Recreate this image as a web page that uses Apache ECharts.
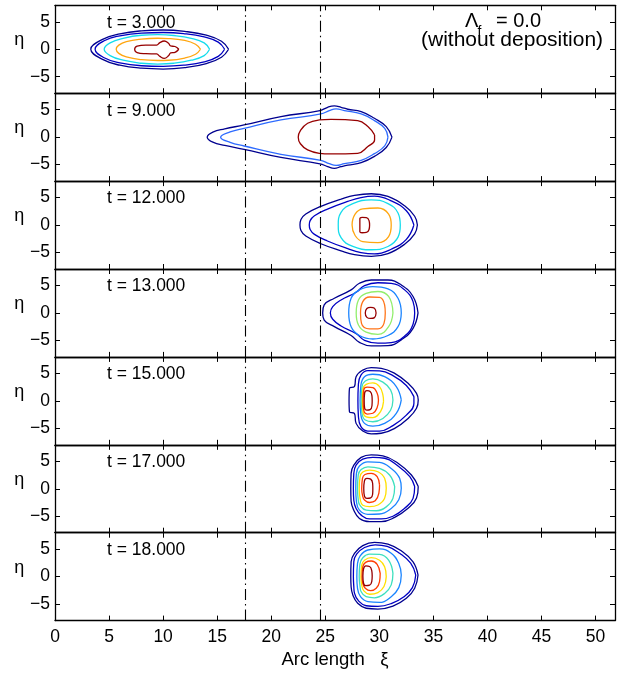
<!DOCTYPE html>
<html>
<head>
<meta charset="utf-8">
<script src="https://cdn.jsdelivr.net/npm/echarts@6/dist/echarts.min.js"></script>
<style>html,body{margin:0;padding:0;background:#fff}#c{width:620px;height:673px}</style>
</head>
<body>
<div id="c"></div>
<script>
// ---------- data ----------
const times = ['3.000', '9.000', '12.000', '13.000', '15.000', '17.000', '18.000'];
const xTickValues = [0, 5, 10, 15, 20, 25, 30, 35, 40, 45, 50];
const yTickValues = [-5, 0, 5];
const refLines = [17.6, 24.5];
const xRange = [0, 51.8];
const yRange = [-8, 8];

// t = 3
const p1a = [[16.06,0],[15.4,1.45],[14.0,2.55],[12.0,3.25],[10.0,3.5],[8.0,3.35],[6.0,2.8],[4.4,1.8],[3.31,0],[4.4,-1.85],[6.0,-2.9],[8.0,-3.45],[10.0,-3.6],[12.0,-3.35],[14.0,-2.6],[15.4,-1.45],[16.06,0]];
const p1b = [[15.69,0],[15.1,1.3],[13.8,2.25],[11.9,2.85],[10.0,3.05],[8.0,2.95],[6.0,2.45],[4.6,1.6],[3.71,0],[4.6,-1.6],[6.0,-2.5],[8.0,-3.0],[10.0,-3.1],[11.9,-2.9],[13.8,-2.3],[15.1,-1.3],[15.69,0]];
const p1c = [[14.3,0],[13.8,1.15],[12.6,2.0],[11.0,2.5],[9.5,2.65],[8.0,2.55],[6.3,2.0],[5.1,1.15],[4.55,0],[5.1,-1.15],[6.3,-2.0],[8.0,-2.55],[9.5,-2.7],[11.0,-2.55],[12.6,-2.0],[13.8,-1.15],[14.3,0]];
const p1d = [[13.46,0],[13.0,0.9],[12.0,1.6],[10.5,1.95],[9.5,2.0],[8.0,1.85],[6.6,1.4],[5.9,0.75],[5.66,0],[5.9,-0.75],[6.6,-1.4],[8.0,-1.9],[9.5,-2.05],[10.5,-2.0],[12.0,-1.6],[13.0,-0.9],[13.46,0]];
const p1e = [[11.45,0],[11.1,0.5],[10.7,0.6],[10.5,1.1],[10.1,1.5],[9.7,1.2],[9.4,0.75],[8.4,0.75],[7.6,0.55],[7.37,0],[7.6,-0.6],[8.4,-0.8],[9.4,-0.85],[9.7,-1.3],[10.1,-1.65],[10.5,-1.2],[10.7,-0.65],[11.1,-0.55],[11.45,0]];
// t = 9
const p2a = [[31.17,0],[30.64,1.92],[29.55,3.43],[28.32,4.65],[27.08,5.08],[26.46,5.44],[25.84,5.68],[25.22,5.44],[24.51,4.83],[20.9,3.74],[17.49,2.22],[15.7,1.5],[14.6,0.9],[14.08,0],[14.6,-0.9],[15.7,-1.5],[17.49,-2.22],[20.9,-3.7],[24.51,-4.85],[25.22,-5.37],[25.84,-5.67],[26.46,-5.37],[27.08,-5.1],[28.32,-4.65],[29.55,-3.5],[30.64,-1.88],[31.17,0]];
const p2b = [[30.8,0],[30.5,1.6],[29.55,3.0],[28.32,4.22],[26.77,4.83],[26.0,5.14],[25.37,4.83],[24.6,4.22],[20.9,3.13],[17.49,1.61],[16.2,0.95],[15.32,0],[16.2,-0.95],[17.49,-1.61],[20.9,-3.13],[24.6,-4.22],[25.37,-4.83],[26.0,-5.14],[26.77,-4.83],[28.32,-4.22],[29.55,-3.0],[30.5,-1.6],[30.8,0]];
const p2c = [[29.56,0.4],[28.94,1.92],[28.0,3.0],[25.53,3.25],[24.45,3.13],[23.37,2.52],[22.7,1.2],[22.5,0],[22.7,-1.2],[23.37,-2.33],[24.45,-2.94],[25.53,-3.06],[28.0,-2.94],[28.94,-1.72],[29.56,-0.5],[29.56,0.4]];
// t = 12
const p3a = [[33.52,0],[33.27,1.6],[32.34,3.5],[30.8,5.2],[29.25,5.7],[27.7,5.4],[26.46,4.7],[24.6,3.4],[23.2,2.0],[22.75,1.0],[22.66,0],[22.75,-1.0],[23.2,-2.0],[24.6,-3.4],[26.46,-4.7],[27.7,-5.4],[29.25,-5.7],[30.8,-5.2],[32.34,-3.5],[33.27,-1.6],[33.52,0]];
const p3b = [[33.2,0],[32.5,2.6],[31.1,4.4],[29.55,5.25],[28.3,5.0],[27.08,4.3],[25.2,2.9],[24.0,1.7],[23.6,0.8],[23.52,0],[23.6,-0.8],[24.0,-1.7],[25.2,-2.9],[27.08,-4.3],[28.3,-5.0],[29.55,-5.25],[31.1,-4.4],[32.5,-2.6],[33.2,0]];
const p3c = [[31.94,0],[31.73,2.2],[30.8,3.9],[29.25,4.6],[27.55,3.9],[26.46,2.3],[26.2,0],[26.46,-2.3],[27.55,-3.9],[29.25,-4.5],[30.8,-3.9],[31.73,-2.2],[31.94,0]];
const p3d = [[31.1,0],[30.86,2.0],[29.87,3.1],[28.47,2.95],[27.76,2.0],[27.48,0],[27.76,-1.9],[28.47,-3.0],[29.87,-3.2],[30.86,-2.1],[31.1,0]];
const p3e = [[29.1,0],[29.05,0.8],[28.8,1.35],[28.4,1.4],[28.2,1.2],[28.2,0],[28.2,-1.2],[28.4,-1.4],[28.8,-1.35],[29.05,-0.8],[29.1,0]];
// t = 13
const p4a = [[33.58,0],[33.12,3.0],[32.03,5.1],[30.8,6.0],[29.25,6.0],[28.16,5.4],[27.39,4.2],[25.84,2.67],[24.9,1.46],[24.76,0],[24.9,-1.3],[25.84,-2.5],[27.39,-4.1],[28.16,-5.35],[29.25,-6.0],[30.8,-5.95],[32.03,-4.9],[33.12,-2.8],[33.58,0]];
const p4b = [[33.27,0],[33.12,2.06],[32.34,4.2],[31.1,5.4],[29.87,5.5],[28.63,4.98],[27.86,3.76],[26.46,2.37],[25.69,1.15],[25.47,0],[25.69,-1.15],[26.46,-2.37],[27.86,-3.76],[28.63,-4.98],[29.87,-5.5],[31.1,-5.4],[32.34,-4.2],[33.12,-2.06],[33.27,0]];
const p4c = [[32.03,0],[31.73,2.67],[30.8,4.37],[29.4,4.8],[28.16,4.2],[27.39,2.67],[27.17,0],[27.39,-2.5],[28.16,-4.1],[29.4,-4.74],[30.8,-4.1],[31.73,-2.5],[32.03,0]];
const p4d = [[31.26,0],[30.86,3.0],[29.87,3.9],[28.78,3.58],[28.07,2.37],[27.86,0],[28.07,-2.2],[28.78,-3.5],[29.87,-3.9],[30.86,-2.5],[31.26,0]];
const p4e = [[30.55,0],[30.49,1.46],[30.02,2.85],[29.1,2.9],[28.47,2.06],[28.26,0],[28.35,-1.9],[29.1,-2.9],[29.87,-2.9],[30.43,-1.9],[30.55,0]];
const p4f = [[29.7,0],[29.55,0.85],[29.2,1.0],[28.85,0.8],[28.7,0],[28.85,-0.8],[29.2,-1.0],[29.55,-0.85],[29.7,0]];
// t = 15
const p5a = [[33.6,0.16],[33.44,1.37],[32.66,3.2],[31.42,5.0],[30.18,5.93],[29.25,6.05],[28.47,5.6],[27.85,4.4],[27.7,2.6],[27.24,2.3],[27.2,0],[27.24,-2.0],[27.7,-2.3],[27.85,-4.1],[28.47,-5.5],[29.25,-6.0],[30.18,-5.9],[31.42,-5.0],[32.66,-3.2],[33.44,-1.35],[33.6,0.16]];
const p5b = [[33.2,0.77],[32.5,2.8],[31.26,4.6],[30.02,5.45],[28.94,5.5],[28.3,4.7],[28.06,2.9],[28.02,0],[28.06,-2.6],[28.3,-4.7],[28.94,-5.5],[30.02,-5.5],[31.26,-4.5],[32.5,-2.6],[33.2,-0.45],[33.2,0.77]];
const p5c = [[32.03,0.16],[31.57,2.6],[30.49,4.4],[29.4,4.84],[28.63,4.4],[28.3,2.9],[28.22,0],[28.3,-2.6],[28.63,-4.1],[29.4,-4.6],[30.49,-4.1],[31.57,-2.3],[32.03,0.16]];
const p5d = [[31.26,0.16],[31.04,2.0],[30.33,3.4],[29.4,4.0],[28.7,3.6],[28.4,2.6],[28.33,0],[28.4,-2.3],[28.7,-3.5],[29.4,-3.8],[30.33,-3.2],[31.04,-1.7],[31.26,0.16]];
const p5e = [[30.39,-0.14],[30.33,1.07],[30.02,2.6],[29.4,3.26],[28.78,3.0],[28.5,2.3],[28.43,0],[28.5,-2.1],[28.78,-2.9],[29.4,-3.05],[30.1,-2.0],[30.39,-0.14]];
const p5f = [[29.92,0.16],[29.8,1.37],[29.4,2.4],[28.88,2.5],[28.56,2.0],[28.5,0],[28.56,-1.7],[28.88,-2.4],[29.4,-2.26],[29.8,-1.23],[29.92,0.16]];
const p5g = [[29.34,0],[29.32,0.9],[29.15,1.7],[28.85,1.85],[28.64,1.4],[28.6,0],[28.64,-1.3],[28.85,-1.7],[29.15,-1.6],[29.32,-0.9],[29.34,0]];
// t = 17
const p6a = [[33.6,0.4],[32.97,2.5],[31.73,4.64],[30.33,5.97],[29.25,6.15],[28.32,5.7],[27.64,4.3],[27.39,2.8],[27.36,0],[27.39,-2.3],[27.64,-3.9],[28.16,-5.4],[29.1,-6.0],[30.18,-6.0],[31.42,-5.2],[32.66,-3.55],[33.44,-1.7],[33.6,0.4]];
const p6b = [[33.27,0.4],[32.82,2.2],[31.73,4.15],[30.49,5.55],[29.4,5.7],[28.47,5.4],[27.85,4.3],[27.64,2.8],[27.6,0],[27.64,-2.1],[27.85,-3.6],[28.32,-4.8],[29.1,-5.5],[30.18,-5.5],[31.26,-5.0],[32.34,-3.55],[33.12,-1.75],[33.27,0.4]];
const p6c = [[32.03,0.08],[31.88,1.9],[31.1,3.7],[30.02,4.8],[28.94,4.9],[28.16,4.15],[27.88,2.8],[27.82,0],[27.88,-2.3],[28.16,-3.9],[28.94,-4.65],[30.02,-4.6],[31.1,-3.6],[31.8,-2.0],[32.03,0.08]];
const p6d = [[31.42,0.4],[30.95,2.5],[30.02,3.7],[28.94,4.0],[28.32,3.5],[28.05,2.5],[27.98,0],[28.05,-2.0],[28.2,-3.0],[28.78,-3.9],[29.71,-4.0],[30.64,-3.3],[31.26,-1.75],[31.42,0.4]];
const p6e = [[30.64,0.08],[30.49,1.9],[29.87,3.1],[29.1,3.4],[28.47,3.06],[28.22,2.2],[28.14,0],[28.22,-1.8],[28.47,-3.0],[29.1,-3.25],[29.87,-2.95],[30.49,-1.75],[30.64,0.08]];
const p6f = [[30.02,0.7],[29.8,2.2],[29.25,2.8],[28.67,2.6],[28.44,1.9],[28.37,0],[28.44,-1.15],[28.63,-2.05],[29.1,-2.5],[29.62,-2.2],[29.96,-0.8],[30.02,0.7]];
const p6g = [[29.4,0],[29.38,1.0],[29.2,1.75],[28.85,1.9],[28.62,1.4],[28.56,0],[28.62,-1.3],[28.85,-1.75],[29.2,-1.65],[29.38,-1.0],[29.4,0]];
// t = 18
const p7a = [[33.58,0.3],[33.12,2.7],[32.03,4.7],[30.8,5.9],[29.55,6.25],[28.47,5.65],[27.7,4.25],[27.39,2.7],[27.36,0],[27.39,-1.8],[27.55,-3.35],[28.0,-4.85],[28.78,-5.75],[29.87,-5.9],[31.26,-5.35],[32.5,-3.95],[33.27,-2.1],[33.58,0.3]];
const p7b = [[33.37,0.3],[32.9,2.45],[31.88,4.25],[30.73,5.5],[29.62,5.8],[28.63,5.3],[27.9,4.1],[27.64,2.7],[27.6,0],[27.64,-1.8],[27.7,-3.0],[28.1,-4.45],[28.78,-5.3],[29.87,-5.4],[31.1,-4.9],[32.28,-3.65],[33.06,-2.0],[33.37,0.3]];
const p7c = [[32.03,0.3],[31.8,2.4],[31.1,4.25],[30.02,5.05],[28.94,4.85],[28.23,3.8],[27.98,2.4],[27.92,0],[27.98,-2.1],[28.26,-3.65],[28.94,-4.55],[30.02,-4.7],[31.1,-3.65],[31.8,-2.0],[32.03,0.3]];
const p7d = [[31.26,0.6],[30.86,3.0],[30.02,4.05],[29.1,4.1],[28.47,3.45],[28.2,2.25],[28.14,0],[28.2,-1.5],[28.32,-2.75],[28.78,-3.65],[29.55,-3.85],[30.49,-3.05],[31.1,-1.5],[31.26,0.6]];
const p7e = [[30.64,0],[30.49,1.8],[30.02,3.0],[29.25,3.45],[28.63,3.0],[28.37,2.1],[28.3,0],[28.37,-1.5],[28.57,-2.6],[29.1,-3.2],[29.87,-2.9],[30.43,-1.8],[30.64,0]];
const p7f = [[30.08,0.6],[29.8,2.25],[29.25,2.85],[28.73,2.6],[28.47,1.8],[28.4,0],[28.47,-1.2],[28.7,-2.1],[29.19,-2.55],[29.71,-2.1],[30.02,-0.9],[30.08,0.6]];
const p7g = [[29.34,0.1],[29.3,1.1],[29.1,1.85],[28.75,1.95],[28.54,1.4],[28.48,0.1],[28.54,-1.2],[28.75,-1.65],[29.1,-1.55],[29.3,-0.9],[29.34,0.1]];

const panelContours = [
  [p1a, p1b, p1c, p1d, p1e],
  [p2a, p2b, p2c],
  [p3a, p3b, p3c, p3d, p3e],
  [p4a, p4b, p4c, p4d, p4e, p4f],
  [p5a, p5b, p5c, p5d, p5e, p5f, p5g],
  [p6a, p6b, p6c, p6d, p6e, p6f, p6g],
  [p7a, p7b, p7c, p7d, p7e, p7f, p7g]
];

// ---------- styles ----------
const C = {
  navy: '#00008F', navy2: '#0000C4', blue2: '#2E6BFF', cyan: '#14DCEC', orange: '#FFA610',
  dred: '#960000', blue: '#1A84FF', green: '#92EE6C', orange2: '#FF7418', aqua: '#3EE0BE',
  yellow: '#FFE000', redor: '#FF3C00'
};
const panelColors = [
  [C.navy, C.navy2, C.cyan, C.orange, C.dred],
  [C.navy, C.blue2, C.dred],
  [C.navy, C.navy2, C.cyan, C.orange, C.dred],
  [C.navy, C.navy2, C.blue, C.green, C.orange2, C.dred],
  [C.navy, C.navy2, C.blue, C.aqua, C.yellow, C.redor, C.dred],
  [C.navy, C.navy2, C.blue, C.aqua, C.yellow, C.redor, C.dred],
  [C.navy, C.navy2, C.blue, C.aqua, C.yellow, C.redor, C.dred]
];

const FONT = "'Liberation Sans', Arial, Helvetica, sans-serif";
const GL = 55, GW = 560, GT = 5.3, PH = 87.9;
const axisLineStyle = { color: '#000', width: 1.3 };
const tickStyle = { color: '#000', width: 1 };
const n = times.length;

const grids = [], xAxes = [], yAxes = [], series = [], titles = [];
for (let i = 0; i < n; i++) {
  grids.push({ left: GL, width: GW, top: GT + i * PH, height: PH, outerBoundsMode: 'none' });
  const last = i === n - 1;
  const xBase = {
    gridIndex: i, type: 'value', min: xRange[0], max: xRange[1],
    splitLine: { show: false },
    axisLine: { show: true, onZero: false, lineStyle: axisLineStyle }
  };
  xAxes.push(Object.assign({}, xBase, {
    position: 'bottom',
    axisTick: { show: true, inside: true, length: 5, lineStyle: tickStyle, customValues: xTickValues },
    axisLabel: { show: last, customValues: xTickValues, margin: 8, color: '#000', fontSize: 17.5, fontFamily: FONT },
    name: last ? 'Arc length   ξ' : '', nameLocation: 'middle', nameGap: 30,
    nameTextStyle: { color: '#000', fontSize: 18.5, fontFamily: FONT }
  }));
  xAxes.push(Object.assign({}, xBase, {
    position: 'top',
    axisTick: { show: true, inside: true, length: 5, lineStyle: tickStyle, customValues: xTickValues },
    axisLabel: { show: false }
  }));
  const yBase = {
    gridIndex: i, type: 'value', min: yRange[0], max: yRange[1],
    splitLine: { show: false },
    axisLine: { show: true, onZero: false, lineStyle: axisLineStyle }
  };
  yAxes.push(Object.assign({}, yBase, {
    position: 'left',
    axisTick: { show: true, inside: true, length: 5, lineStyle: tickStyle, customValues: yTickValues },
    axisLabel: { show: true, customValues: yTickValues, margin: 5, color: '#000', fontSize: 17.5, fontFamily: FONT,
      formatter: v => (v < 0 ? '\u2212' + (-v) : String(v)) },
    name: 'η', nameLocation: 'middle', nameGap: 29, nameRotate: 0,
    nameTextStyle: { color: '#000', fontSize: 18, fontFamily: FONT, verticalAlign: 'bottom', align: 'right' }
  }));
  yAxes.push(Object.assign({}, yBase, {
    position: 'right',
    axisTick: { show: true, inside: true, length: 5, lineStyle: tickStyle, customValues: yTickValues },
    axisLabel: { show: false }
  }));

  panelContours[i].forEach((pts, k) => {
    const s = {
      type: 'line', xAxisIndex: 2 * i, yAxisIndex: 2 * i, data: pts,
      showSymbol: false, symbol: 'none', smooth: 0.45, silent: true,
      lineStyle: { color: panelColors[i][k], width: 1.3 },
      z: 3
    };
    if (k === 0) {
      s.markLine = {
        silent: true, symbol: ['none', 'none'], label: { show: false },
        lineStyle: { color: '#000', type: [11, 4, 1.5, 4], width: 1.1 },
        data: refLines.map(v => ({ xAxis: v }))
      };
    }
    series.push(s);
  });

  titles.push({
    text: 't = ' + times[i], left: 107, top: GT + i * PH + 8.5, padding: 0,
    textStyle: { fontSize: 17.5, fontWeight: 'normal', color: '#000', fontFamily: FONT }
  });
}
const annStyle = { fontWeight: 'normal', color: '#000', fontFamily: FONT };
titles.push({ text: 'Λ', left: 465, top: 11.4, padding: 0, textStyle: Object.assign({ fontSize: 20 }, annStyle) });
titles.push({ text: 'f', left: 477.5, top: 25, padding: 0, textStyle: Object.assign({ fontSize: 14 }, annStyle) });
titles.push({ text: '= 0.0', left: 496, top: 11.4, padding: 0, textStyle: Object.assign({ fontSize: 20 }, annStyle) });
titles.push({ text: '(without deposition)', left: 421, top: 29.3, padding: 0, textStyle: Object.assign({ fontSize: 21 }, annStyle) });

const chart = echarts.init(document.getElementById('c'), null, { renderer: 'canvas' });
chart.setOption({
  animation: false,
  backgroundColor: '#fff',
  textStyle: { fontFamily: FONT },
  title: titles,
  grid: grids,
  xAxis: xAxes,
  yAxis: yAxes,
  series: series
});
</script>
</body>
</html>
